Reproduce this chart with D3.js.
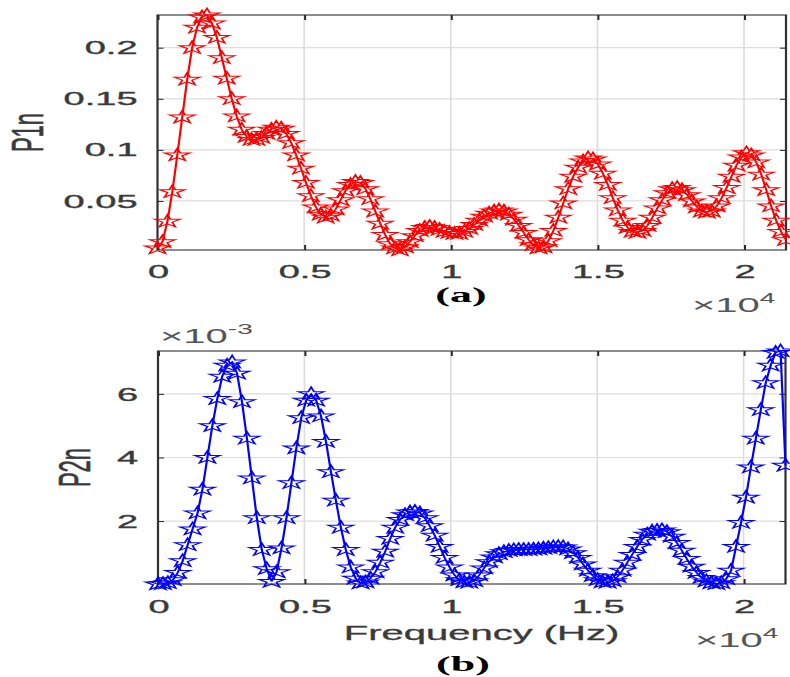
<!DOCTYPE html>
<html>
<head>
<meta charset="utf-8">
<script src="https://cdn.jsdelivr.net/npm/d3@7"></script>
<style>
  html, body { margin: 0; padding: 0; background: #ffffff; }
  svg { display: block; }
</style>
</head>
<body>
<div id="chart"></div>
<script>
// ---------- data ----------
const freqStep = 168.75; // Hz between FFT bins
const p1n = [
  0.004,0.010,0.030,0.059,0.095,0.132,0.169,0.200,0.220,0.230,
  0.232,0.224,0.210,0.190,0.170,0.150,0.133,0.120,0.113,0.110,
  0.110,0.112,0.116,0.120,0.122,0.121,0.116,0.107,0.095,0.082,
  0.068,0.055,0.044,0.037,0.034,0.036,0.042,0.051,0.060,0.066,
  0.069,0.068,0.062,0.052,0.040,0.028,0.017,0.008,0.004,0.002,
  0.005,0.010,0.016,0.021,0.024,0.025,0.024,0.022,0.020,0.019,
  0.018,0.018,0.020,0.023,0.027,0.031,0.035,0.038,0.040,0.041,
  0.040,0.037,0.032,0.026,0.019,0.012,0.007,0.004,0.005,0.011,
  0.021,0.034,0.048,0.062,0.074,0.083,0.089,0.092,0.091,0.086,
  0.077,0.066,0.053,0.041,0.031,0.024,0.020,0.019,0.021,0.026,
  0.034,0.043,0.051,0.058,0.062,0.063,0.061,0.056,0.050,0.044,
  0.040,0.039,0.040,0.045,0.053,0.063,0.074,0.085,0.093,0.097,
  0.095,0.088,0.076,0.061,0.045,0.031,0.020,0.012
];
// P2n in units of 1e-3
const p2n = [
  0.02,0.03,0.06,0.15,0.38,0.75,1.25,1.75,2.25,3.0,
  4.0,5.0,5.85,6.55,6.9,7.0,6.65,5.75,4.6,3.35,
  2.1,1.1,0.5,0.1,0.4,1.15,2.1,3.2,4.3,5.25,
  5.8,6.0,5.8,5.3,4.5,3.55,2.65,1.8,1.1,0.55,
  0.2,0.05,0.08,0.2,0.4,0.7,1.05,1.45,1.8,2.05,
  2.2,2.28,2.3,2.25,2.1,1.85,1.55,1.2,0.85,0.55,
  0.3,0.15,0.08,0.07,0.12,0.3,0.52,0.72,0.87,0.97,
  1.03,1.07,1.09,1.1,1.1,1.1,1.11,1.12,1.14,1.16,
  1.18,1.19,1.18,1.12,1.0,0.85,0.65,0.45,0.28,0.15,
  0.08,0.07,0.12,0.25,0.45,0.7,0.95,1.2,1.42,1.58,
  1.68,1.7,1.72,1.66,1.52,1.32,1.08,0.82,0.58,0.38,
  0.22,0.11,0.05,0.03,0.06,0.18,0.45,1.2,1.95,2.75,
  3.7,4.6,5.5,6.35,6.9,7.3,7.35,3.75
];
const xTickValues = [0, 5000, 10000, 15000, 20000];
const xTickLabels = ["0", "0.5", "1", "1.5", "2"];
const p1TickValues = [0.05, 0.1, 0.15, 0.2];
const p1TickLabels = ["0.05", "0.1", "0.15", "0.2"];
const p2TickValues = [2, 4, 6];
const p2TickLabels = ["2", "4", "6"];

// ---------- drawing ----------
const W = 790, H = 677, SX = 2; // reference is horizontally stretched
const IW = W / SX;
const svg = d3.select("#chart").append("svg")
  .attr("width", W).attr("height", H)
  .attr("viewBox", `0 0 ${IW} ${H}`)
  .attr("preserveAspectRatio", "none");

const SANS = "'Liberation Sans', Arial, Helvetica, sans-serif";
const SERIF = "'Liberation Serif', 'Times New Roman', serif";
const TXT = "#3a3a3a";

function panel(cfg) {
  const freqs = cfg.values.map((_, i) => i * freqStep);
  const x = d3.scaleLinear().domain([0, freqs[freqs.length - 1]]).range([cfg.left, cfg.right]);
  const y = d3.scaleLinear().domain(d3.extent(cfg.values)).range([cfg.bottom, cfg.top]);
  const g = svg.append("g");

  g.append("rect").attr("x", cfg.left).attr("y", cfg.top)
    .attr("width", cfg.right - cfg.left).attr("height", cfg.bottom - cfg.top)
    .attr("fill", "#ffffff");

  // grid
  g.selectAll(".gx").data(xTickValues.filter(v => v > 0)).enter().append("line")
    .attr("x1", d => x(d)).attr("x2", d => x(d))
    .attr("y1", cfg.top).attr("y2", cfg.bottom)
    .attr("stroke", "#dcdcdc").attr("stroke-width", 0.8);
  g.selectAll(".gy").data(cfg.yTicks).enter().append("line")
    .attr("x1", cfg.left).attr("x2", cfg.right)
    .attr("y1", d => y(d)).attr("y2", d => y(d))
    .attr("stroke", "#dcdcdc").attr("stroke-width", 1.2);

  // axes (inward ticks)
  const xa = d3.axisBottom(x).tickValues(xTickValues)
    .tickFormat((d, i) => xTickLabels[i]).tickSizeInner(-5).tickSizeOuter(0).tickPadding(cfg.xPad);
  const xaTop = d3.axisTop(x).tickValues(xTickValues).tickFormat("").tickSizeInner(-5).tickSizeOuter(0);
  const ya = d3.axisLeft(y).tickValues(cfg.yTicks)
    .tickFormat((d, i) => cfg.yLabels[i]).tickSizeInner(-3).tickSizeOuter(0).tickPadding(10);
  const yaRight = d3.axisRight(y).tickValues(cfg.yTicks).tickFormat("").tickSizeInner(-3).tickSizeOuter(0);

  const styleAxis = sel => {
    sel.select(".domain").remove();
    sel.selectAll(".tick line").attr("stroke", "#262626").attr("stroke-width", 1);
    sel.selectAll(".tick text").attr("fill", TXT).attr("font-family", SANS).attr("font-size", 19)
      .attr("stroke", TXT).attr("stroke-width", 0.35);
  };
  g.append("g").attr("transform", `translate(0,${cfg.bottom})`).call(xa).call(styleAxis);
  g.append("g").attr("transform", `translate(0,${cfg.top})`).call(xaTop).call(styleAxis);
  g.append("g").attr("transform", `translate(${cfg.left},0)`).call(ya).call(styleAxis);
  g.append("g").attr("transform", `translate(${cfg.right},0)`).call(yaRight).call(styleAxis);

  // box
  g.append("rect").attr("x", cfg.left).attr("y", cfg.top)
    .attr("width", cfg.right - cfg.left).attr("height", cfg.bottom - cfg.top)
    .attr("fill", "none").attr("stroke", "#303030").attr("stroke-width", 1.1);

  // line + pentagram markers
  const pts = cfg.values.map((v, i) => [freqs[i], v]);
  g.append("path").datum(pts)
    .attr("d", d3.line().x(d => x(d[0])).y(d => y(d[1])))
    .attr("fill", "none").attr("stroke", cfg.color).attr("stroke-width", 1.1);
  const star = d3.symbol().type(d3.symbolStar).size(50);
  g.selectAll(".m").data(pts).enter().append("path")
    .attr("transform", d => `translate(${x(d[0])},${y(d[1])})`)
    .attr("d", star)
    .attr("fill", "none").attr("stroke", cfg.color).attr("stroke-width", 1);

  // y label
  g.append("text")
    .attr("transform", `translate(${cfg.yLabelX},${(cfg.top + cfg.bottom) / 2}) rotate(-90)`)
    .attr("text-anchor", "middle").attr("font-family", SANS).attr("font-size", 22)
    .attr("fill", TXT).attr("stroke", TXT).attr("stroke-width", 0.3).text(cfg.yLabel);

  // x exponent label
  const ex = g.append("text").attr("x", cfg.xExpX).attr("y", cfg.xExpY)
    .attr("font-family", SANS).attr("font-size", 20).attr("fill", "#555");
  ex.append("tspan").text("×10");
  ex.append("tspan").attr("dy", -9).attr("font-size", 14).text("4");

  // panel caption
  g.append("text").attr("x", cfg.capX).attr("y", cfg.capY)
    .attr("text-anchor", "middle").attr("font-family", SERIF).attr("font-weight", "bold")
    .attr("font-size", 22).attr("fill", "#000").text(cfg.caption);
  return { x, y, g };
}

panel({
  values: p1n, left: 157.5 / SX, right: 786 / SX, top: 15, bottom: 250,
  yTicks: p1TickValues, yLabels: p1TickLabels, xPad: 15,
  color: "#ff0000", yLabel: "P1n", yLabelX: 21.5,
  xExpX: 346, xExpY: 312, caption: "(a)", capX: 230.5, capY: 302
});

panel({
  values: p2n, left: 158 / SX, right: 785.5 / SX, top: 351, bottom: 584,
  yTicks: p2TickValues, yLabels: p2TickLabels, xPad: 16,
  color: "#0000ff", yLabel: "P2n", yLabelX: 45,
  xExpX: 347.5, xExpY: 647, caption: "(b)", capX: 231.5, capY: 671
});

// y exponent for bottom panel
const ye = svg.append("text").attr("x", 80).attr("y", 343)
  .attr("font-family", SANS).attr("font-size", 20).attr("fill", "#555");
ye.append("tspan").text("×10");
ye.append("tspan").attr("dy", -9).attr("font-size", 14).text("-3");

// x axis title
svg.append("text").attr("x", 481.5 / SX).attr("y", 640)
  .attr("text-anchor", "middle").attr("font-family", SANS).attr("font-size", 20)
  .attr("fill", TXT).attr("stroke", TXT).attr("stroke-width", 0.3).text("Frequency (Hz)");
</script>
</body>
</html>
